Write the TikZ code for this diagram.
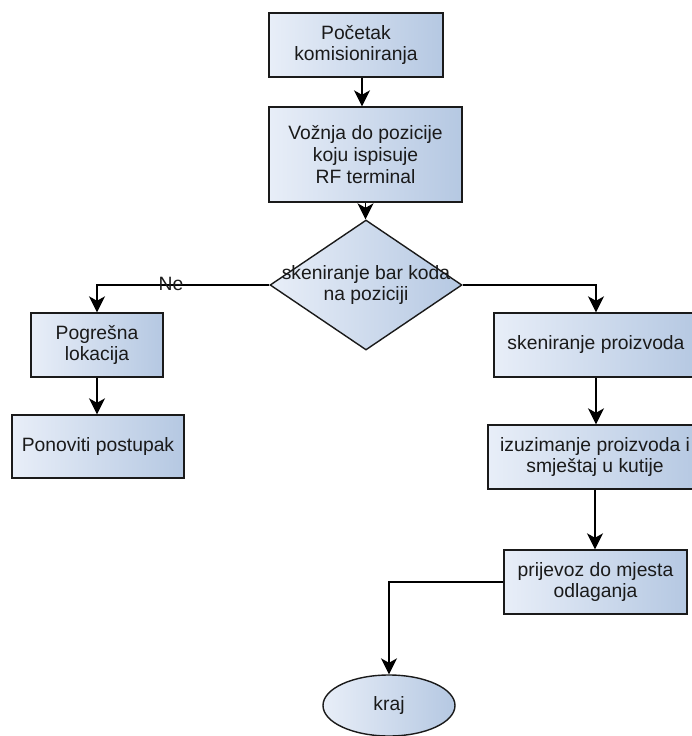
\documentclass[tikz,border=0pt]{standalone}
\usepackage{fontspec}
\setmainfont{Liberation Sans}
\usetikzlibrary{shapes.geometric,arrows.meta}
\definecolor{boxL}{HTML}{E8EEF8}
\definecolor{boxR}{HTML}{B5C8E2}
\definecolor{edgeC}{HTML}{1A1A1A}
\definecolor{txtC}{HTML}{1A1A1A}
\tikzset{
  base/.style={draw=edgeC, line width=1.4pt, left color=boxL, right color=boxR,
    inner sep=0pt, align=center, text=txtC,
    font=\fontsize{19.3}{21.8}\selectfont},
  proc/.style={base, rectangle},
  dec/.style={base, diamond},
  term/.style={base, ellipse},
  lbl/.style={inner sep=0pt, text=txtC, align=center, font=\fontsize{19.3}{21.8}\selectfont},
  arr/.style={draw=black, line width=1.3pt, -{Stealth[length=16pt,width=16pt,inset=4.5pt]}},
  conn/.style={draw=black, line width=1.3pt}
}
\begin{document}
\begin{tikzpicture}[x=1pt,y=-1pt]
\useasboundingbox (0,0) rectangle (692,736);
\clip (0,0) rectangle (692,736);
\node[proc, minimum width=174pt, minimum height=64pt] (b1) at (356,45) {Početak\\komisioniranja};
\node[proc, minimum width=193pt, minimum height=95pt] (b2) at (365.5,154.5) {Vožnja do pozicije\\koju ispisuje\\RF terminal};
\node[dec, minimum width=192pt, minimum height=130pt] (d) at (366,285) {};
\node[lbl] (dt) at (d.center) {skeniranje bar koda\\na poziciji};
\node[proc, minimum width=132pt, minimum height=64pt] (b3) at (97,345) {Pogrešna\\lokacija};
\node[proc, minimum width=172pt, minimum height=63pt] (b4) at (98,446.5) {Ponoviti postupak};
\node[proc, minimum width=204pt, minimum height=64pt] (b5) at (596,345) {skeniranje proizvoda};
\node[proc, minimum width=214pt, minimum height=64pt] (b6) at (595,457) {izuzimanje proizvoda i\\smještaj u kutije};
\node[proc, minimum width=183pt, minimum height=64pt] (b7) at (595.5,582) {prijevoz do mjesta\\odlaganja};
\node[term, minimum width=132pt, minimum height=61pt] (e) at (389,705.5) {kraj};

\draw[arr] ([xshift=6pt]b1.south) -- ([xshift=-3.5pt]b2.north);
\draw[arr] (b2.south) -- (b2.south |- d.north);
\draw[arr] (d.west) -| (b3.north);
\node[lbl] (ne) at (171,284) {Ne};
\draw[arr] (b3.south) -- (b3.south |- b4.north);
\draw[arr] (d.east) -| (b5.north);
\draw[arr] (b5.south) -- (b5.south |- b6.north);
\draw[arr] (b6.south) -- (b6.south |- b7.north);
\draw[arr] (b7.west) -| (e.north);
\end{tikzpicture}
\end{document}
